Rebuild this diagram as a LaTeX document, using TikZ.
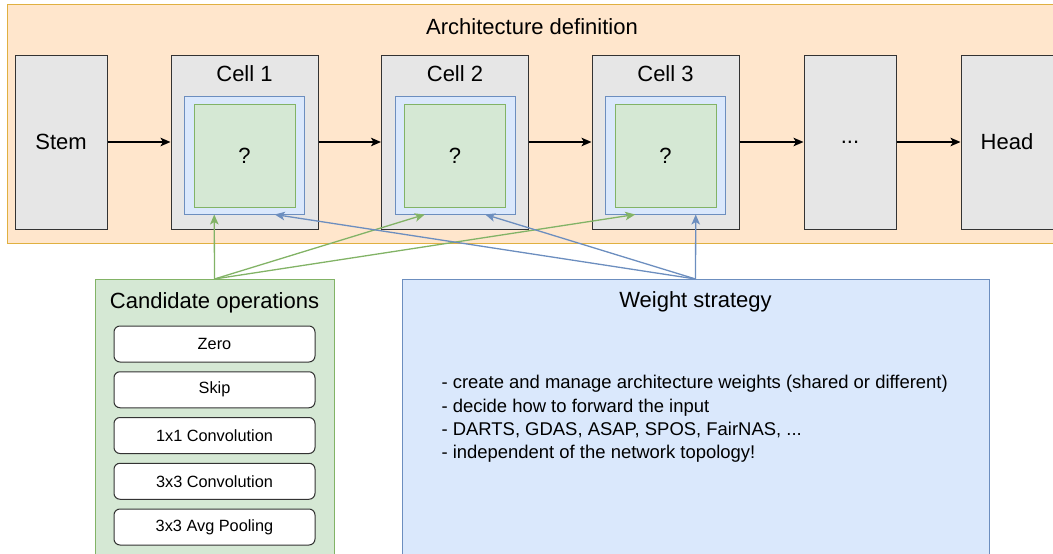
\documentclass[tikz,border=0pt]{standalone}
\usepackage{fontspec}
\setmainfont{Liberation Sans}
\usepackage{tikz}
\usetikzlibrary{arrows.meta}
\usetikzlibrary{calc}

\definecolor{archfill}{HTML}{FFE6CC}
\definecolor{archline}{HTML}{E0B040}
\definecolor{boxfill}{HTML}{E6E6E6}
\definecolor{boxline}{HTML}{333333}
\definecolor{wfill}{HTML}{DAE8FC}
\definecolor{wline}{HTML}{6C8EBF}
\definecolor{opfill}{HTML}{D5E8D4}
\definecolor{opline}{HTML}{82B366}

\newcommand{\bigfont}{\fontsize{22}{26}\selectfont}
\newcommand{\midfont}{\fontsize{18.45}{23.3}\selectfont}
\newcommand{\smallfont}{\fontsize{16.3}{19}\selectfont}

\tikzset{
	frame/.style = {rectangle, line width=1pt, inner sep=0pt},
	block/.style = {rectangle, draw=boxline, fill=boxfill, line width=1pt,
		minimum width=92pt, minimum height=174pt, inner sep=0pt, font=\bigfont},
	cell/.style = {block, minimum width=147pt},
	slot/.style = {rectangle, draw=wline, fill=wfill, line width=1pt,
		minimum width=120pt, minimum height=118pt, inner sep=0pt},
	choice/.style = {rectangle, draw=opline, fill=opfill, line width=1pt,
		minimum width=101pt, minimum height=103pt, inner sep=0pt, font=\bigfont},
	opbox/.style = {rectangle, rounded corners=6pt, draw=boxline, fill=white,
		line width=1pt, minimum width=201pt, minimum height=36pt, inner sep=0pt,
		font=\smallfont},
	tip/.style = {-{Stealth[length=10pt, width=8.5pt, inset=2.5pt]}}
}

\begin{document}
\begin{tikzpicture}[x=1pt, y=-1pt]
	\clip (0,0) rectangle (1053,554);
	\useasboundingbox (0,0) rectangle (1053,554);

	% containers
	\node[frame, draw=archline, fill=archfill, minimum width=1063pt, minimum height=238.5pt]
		(arch) at (539,123.75) {};
	\node[font=\bigfont] (archtitle) at (532,27) {Architecture definition};
	\node[frame, draw=opline, fill=opfill, minimum width=239pt, minimum height=321pt]
		(cand) at (214.5,440) {};
	\node[font=\bigfont] (candtitle) at (214.5,303) {Candidate operations};
	\node[frame, draw=wline, fill=wfill, minimum width=587pt, minimum height=321pt]
		(weight) at (695.5,440) {};
	\node[font=\bigfont] (weighttitle) at (695.5,302) {Weight strategy};

	% network
	\node[block] (stem) at (61,142) {Stem};
	\foreach \i/\x in {1/244.5, 2/455, 3/665.5} {
		\node[cell] (cell\i) at (\x,142) {};
		\node[font=\bigfont] (celltitle\i) at (\x,74) {Cell \i};
		\node[slot] (slot\i) at (\x,155) {};
		\node[choice] (choice\i) at (\x,155.5) {?};
		\coordinate (opin\i) at ($(slot\i.south west)!0.25!(slot\i.south east)$);
		\coordinate (wtin\i) at ($(slot\i.south west)!0.75!(slot\i.south east)$);
	}
	\node[block] (dots) at (850,142) {...};
	\node[block] (head) at (1007,142) {Head};

	% operations
	\foreach \name [count=\k from 0] in {Zero, Skip, 1x1 Convolution, 3x3 Convolution, 3x3 Avg Pooling}
		\node[opbox] (op\k) at (214.5,344+45.75*\k) {\name};

	\node[anchor=west, align=left, font=\midfont] (notes) at (438,419)
		{- create and manage architecture weights (shared or different)\\
		 - decide how to forward the input\\
		 - DARTS, GDAS, ASAP, SPOS, FairNAS, ...\\
		 - independent of the network topology!};

	\begin{scope}[every edge/.style={draw=black, line width=1.4pt, tip}]
		\path (stem) edge (cell1);
		\path (cell1) edge (cell2);
		\path (cell2) edge (cell3);
		\path (cell3) edge (dots);
		\path (dots) edge (head);
	\end{scope}
	\begin{scope}[every edge/.style={draw=opline, line width=1.3pt, tip}]
		\path (cand.north) edge (opin1);
		\path (cand.north) edge (opin2);
		\path (cand.north) edge (opin3);
	\end{scope}
	\begin{scope}[every edge/.style={draw=wline, line width=1.3pt, tip}]
		\path (weight.north) edge (wtin1);
		\path (weight.north) edge (wtin2);
		\path (weight.north) edge (wtin3);
	\end{scope}
\end{tikzpicture}
\end{document}
